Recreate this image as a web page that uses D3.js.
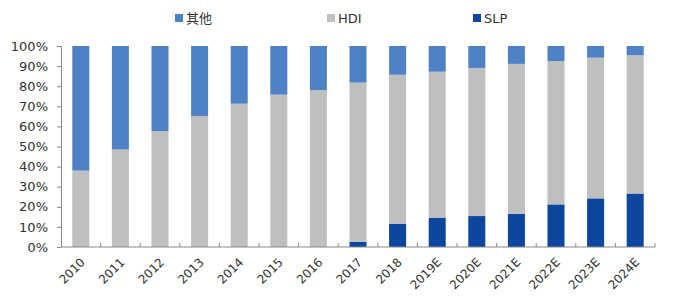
<!DOCTYPE html>
<html>
<head>
<meta charset="utf-8">
<script src="https://cdn.jsdelivr.net/npm/d3@7"></script>
<style>
  body { margin: 0; background: #fff; }
  svg { display: block; }
  text { font-family: "DejaVu Sans", Verdana, sans-serif; fill: #333; }
</style>
</head>
<body>
<svg id="chart" width="680" height="298"></svg>
<script>
// categories and series (percent of total)
var years = ["2010", "2011", "2012", "2013", "2014", "2015", "2016", "2017",
             "2018", "2019E", "2020E", "2021E", "2022E", "2023E", "2024E"];
var slp = [0, 0, 0, 0, 0, 0, 0, 2.5, 11.6, 14.6, 15.4, 16.5, 21.2, 24.2, 26.6];
var hdi = [38, 48.5, 57.6, 65.2, 71.3, 75.8, 78.1, 79.3, 74.1, 72.6, 73.7, 74.6, 71.3, 70.0, 68.8];
var other = [62, 51.5, 42.4, 34.8, 28.7, 24.2, 21.9, 18.2, 14.3, 12.8, 10.9, 8.9, 7.5, 5.8, 4.6];
var yTicks = [0, 10, 20, 30, 40, 50, 60, 70, 80, 90, 100];

var seriesNames = ["SLP", "HDI", "其他"];
var colors = { "SLP": "#0c469f", "HDI": "#bfbfbf", "其他": "#4f81c6" };

var margin = { top: 46, right: 25, bottom: 51, left: 61 };
var width = 680 - margin.left - margin.right;
var height = 298 - margin.top - margin.bottom;

var svg = d3.select("#chart");
var g = svg.append("g")
    .attr("transform", "translate(" + margin.left + "," + margin.top + ")");

var rows = years.map(function (y, i) {
    return { year: y, "SLP": slp[i], "HDI": hdi[i], "其他": other[i] };
});

var x = d3.scaleBand().domain(years).range([0, width]).paddingInner(0.57).paddingOuter(0.285);
var band = d3.scaleBand().domain(years).range([0, width]);
var yScale = d3.scaleLinear().domain([0, 100]).range([height, 0]);

var stack = d3.stack().keys(seriesNames);
var layers = stack(rows);

g.selectAll("g.layer")
    .data(layers)
    .enter().append("g")
    .attr("class", "layer")
    .attr("fill", function (d) { return colors[d.key]; })
    .selectAll("rect")
    .data(function (d) { return d; })
    .enter().append("rect")
    .attr("x", function (d) { return x(d.data.year); })
    .attr("width", x.bandwidth())
    .attr("y", function (d) { return yScale(Math.min(d[1], 100)); })
    .attr("height", function (d) { return Math.max(0, yScale(d[0]) - yScale(Math.min(d[1], 100))); });

// y axis
var yAxis = d3.axisLeft(yScale)
    .tickValues(yTicks)
    .tickFormat(function (d) { return d + "%"; })
    .tickSize(4)
    .tickPadding(9);
var yg = g.append("g").call(yAxis);
yg.select(".domain").attr("stroke", "#888").attr("d", "M-4,0.5H0.5V" + height);
yg.selectAll(".tick line").attr("stroke", "#888");
yg.selectAll(".tick text").style("font-size", "13px").attr("fill", "#333");

// x axis: line with small ticks between categories
var xg = g.append("g").attr("transform", "translate(0," + height + ")");
xg.append("line")
    .attr("x1", 0).attr("x2", width)
    .attr("stroke", "#888");
xg.selectAll("line.tk")
    .data(years.slice(1).concat(["end"]))
    .enter().append("line")
    .attr("class", "tk")
    .attr("x1", function (d, i) { return band.step() * (i + 1); })
    .attr("x2", function (d, i) { return band.step() * (i + 1); })
    .attr("y1", 0).attr("y2", -4)
    .attr("stroke", "#888");
xg.selectAll("text")
    .data(years)
    .enter().append("text")
    .attr("transform", function (d) {
        return "translate(" + (x(d) + x.bandwidth() / 2 + 2) + ",13) rotate(-45)";
    })
    .attr("text-anchor", "end")
    .attr("dy", "0.35em")
    .style("font-size", "12px")
    .text(function (d) { return d; });

// legend
var legendItems = [
    { name: "其他", x: 175 },
    { name: "HDI", x: 327 },
    { name: "SLP", x: 473 }
];
var lg = svg.append("g");
var li = lg.selectAll("g").data(legendItems).enter().append("g")
    .attr("transform", function (d) { return "translate(" + d.x + ",14)"; });
li.append("rect")
    .attr("width", 8).attr("height", 8)
    .attr("fill", function (d) { return colors[d.name]; });
li.append("text")
    .attr("x", 11).attr("y", 4).attr("dy", "0.35em")
    .style("font-size", "13px")
    .style("font-family", function (d) { return d.name === "其他" ? "'Noto Sans CJK SC', serif" : null; })
    .text(function (d) { return d.name; });
</script>
</body>
</html>
